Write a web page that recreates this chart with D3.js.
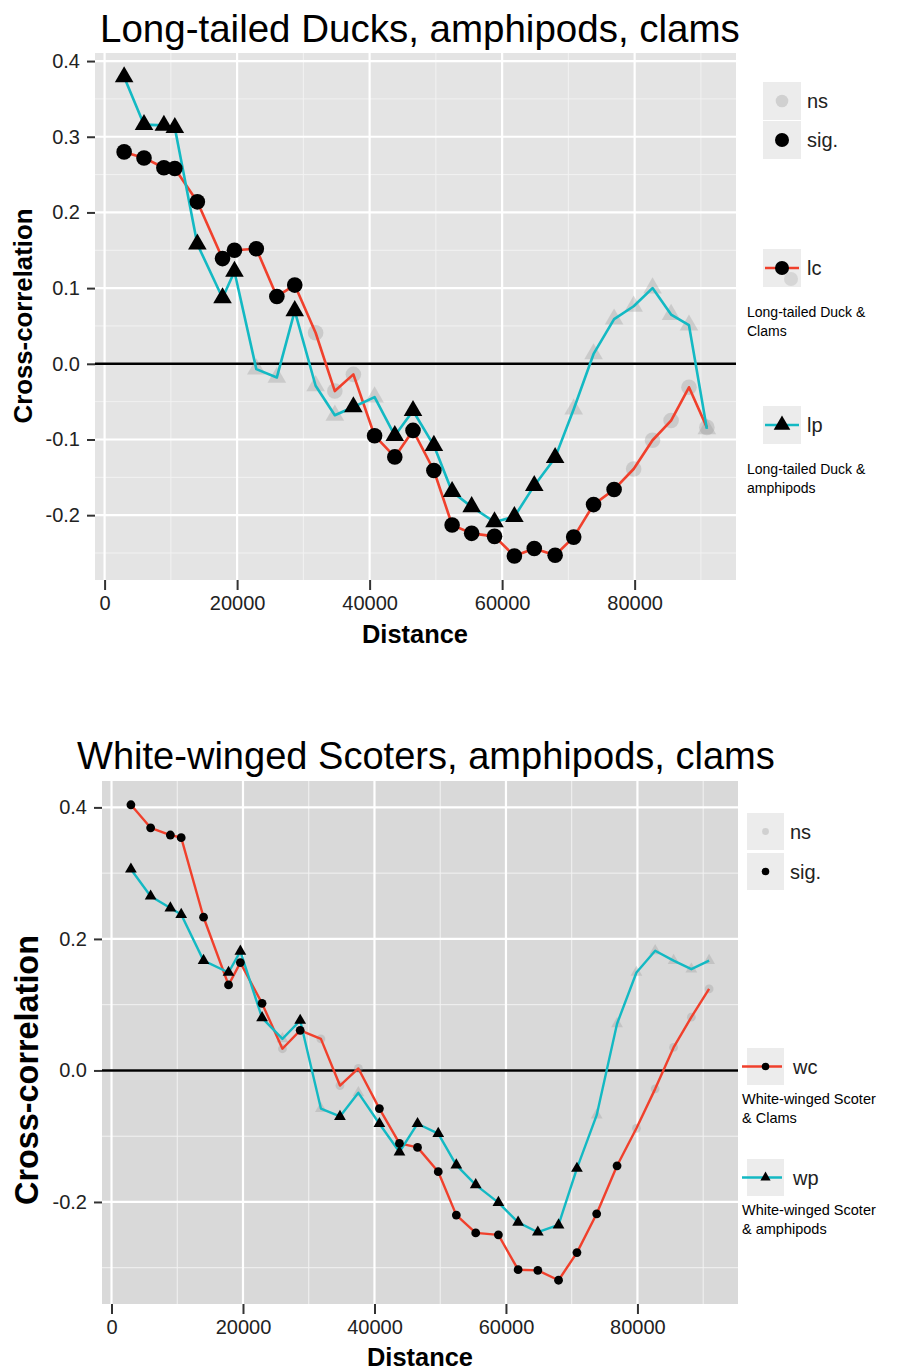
<!DOCTYPE html>
<html>
<head>
<meta charset="utf-8">
<script src="https://cdn.jsdelivr.net/npm/d3@7"></script>
<style>
  html, body { margin: 0; padding: 0; background: #ffffff; }
  svg { display: block; }
  text { font-family: "Liberation Sans", Arial, Helvetica, sans-serif; }
</style>
</head>
<body>
<svg id="fig" width="906" height="1371"></svg>
<script>
// Lag distances shared by both correlograms
const distance = [2950, 5950, 8950, 10600, 14000, 17800, 19600, 22900, 26000, 28700,
                  31850, 34750, 37550, 40750, 43800, 46550, 49700, 52450, 55400, 58850,
                  61850, 64850, 68000, 70800, 73800, 76900, 79850, 82700, 85500, 88200, 90900];

// Long-tailed Duck & clams (lc)
const lcValues = [0.280, 0.272, 0.259, 0.258, 0.214, 0.139, 0.150, 0.152, 0.089, 0.104,
                  0.041, -0.036, -0.014, -0.095, -0.123, -0.088, -0.141, -0.213, -0.224, -0.228,
                  -0.254, -0.244, -0.253, -0.229, -0.186, -0.166, -0.139, -0.101, -0.075, -0.031, -0.084];
const lcSig = [1,1,1,1,1,1,1,1,1,1, 0,0,0,1,1,1,1,1,1,1, 1,1,1,1,1,1,0,0,0,0,0];

// Long-tailed Duck & amphipods (lp)
const lpValues = [0.379, 0.316, 0.315, 0.312, 0.158, 0.087, 0.122, -0.007, -0.018, 0.070,
                  -0.029, -0.068, -0.057, -0.044, -0.095, -0.062, -0.108, -0.169, -0.189, -0.209,
                  -0.202, -0.161, -0.124, -0.060, 0.013, 0.059, 0.076, 0.100, 0.065, 0.051, -0.086];
const lpSig = [1,1,1,1,1,1,1,0,0,1, 0,0,1,0,1,1,1,1,1,1, 1,1,1,0,0,0,0,0,0,0,0];

// White-winged Scoter & clams (wc)
const wcValues = [0.404, 0.369, 0.358, 0.354, 0.233, 0.130, 0.164, 0.102, 0.033, 0.061,
                  0.048, -0.023, 0.003, -0.058, -0.111, -0.117, -0.154, -0.220, -0.247, -0.250,
                  -0.303, -0.304, -0.319, -0.277, -0.218, -0.145, -0.088, -0.028, 0.035, 0.081, 0.124];
const wcSig = [1,1,1,1,1,1,1,1,0,1, 0,0,0,1,1,1,1,1,1,1, 1,1,1,1,1,1,0,0,0,0,0];

// White-winged Scoter & amphipods (wp)
const wpValues = [0.306, 0.265, 0.247, 0.237, 0.167, 0.149, 0.181, 0.080, 0.048, 0.076,
                  -0.058, -0.070, -0.034, -0.081, -0.124, -0.081, -0.096, -0.144, -0.174, -0.201,
                  -0.231, -0.246, -0.235, -0.149, -0.068, 0.071, 0.149, 0.182, 0.167, 0.154, 0.167];
const wpSig = [1,1,1,1,1,1,1,1,0,1, 0,1,0,1,1,1,1,1,1,1, 1,1,1,1,0,0,0,0,0,0,0];

// Axis ticks
const xTicks = [0, 20000, 40000, 60000, 80000];
const xMinorTicks = [10000, 30000, 50000, 70000, 90000];
const yTicksTop = [-0.2, -0.1, 0.0, 0.1, 0.2, 0.3, 0.4];
const yMinorTop = [-0.25, -0.15, -0.05, 0.05, 0.15, 0.25, 0.35];
const yTicksBottom = [-0.2, 0.0, 0.2, 0.4];
const yMinorBottom = [-0.3, -0.1, 0.1, 0.3];

const RED = "#f0402c";
const CYAN = "#13b9c3";
const NS_FILL = "#9a9a9a";

const svg = d3.select("#fig");

function fitWidth(sel, target) {
  const w = sel.node().getComputedTextLength();
  const fs = parseFloat(sel.attr("font-size"));
  sel.attr("font-size", (fs * target / w).toFixed(2));
  return sel;
}

function expand(ext, f) {
  const pad = (ext[1] - ext[0]) * f;
  return [ext[0] - pad, ext[1] + pad];
}

function drawPanel(cfg) {
  const g = svg.append("g");
  const allY = cfg.c.concat(cfg.p);
  const x = d3.scaleLinear().domain(expand(d3.extent(distance), 0.05)).range([cfg.x0, cfg.x1]);
  const y = d3.scaleLinear().domain(expand(d3.extent(allY), 0.05)).range([cfg.y1, cfg.y0]);

  // title
  const title = g.append("text")
    .attr("x", cfg.titleX).attr("y", cfg.titleY)
    .attr("font-size", 34).attr("fill", "#000")
    .text(cfg.title);
  fitWidth(title, cfg.titleW);

  // panel background
  g.append("rect")
    .attr("x", cfg.x0).attr("y", cfg.y0)
    .attr("width", cfg.x1 - cfg.x0).attr("height", cfg.y1 - cfg.y0)
    .attr("fill", cfg.bg);

  // grid lines
  g.selectAll(".gxm").data(xMinorTicks).join("line")
    .attr("x1", d => x(d)).attr("x2", d => x(d)).attr("y1", cfg.y0).attr("y2", cfg.y1)
    .attr("stroke", "#f2f2f2").attr("stroke-width", 1);
  g.selectAll(".gym").data(cfg.yMinor).join("line")
    .attr("x1", cfg.x0).attr("x2", cfg.x1).attr("y1", d => y(d)).attr("y2", d => y(d))
    .attr("stroke", "#f2f2f2").attr("stroke-width", 1);
  g.selectAll(".gx").data(xTicks).join("line")
    .attr("x1", d => x(d)).attr("x2", d => x(d)).attr("y1", cfg.y0).attr("y2", cfg.y1)
    .attr("stroke", "#ffffff").attr("stroke-width", 2.2);
  g.selectAll(".gy").data(cfg.yTicks).join("line")
    .attr("x1", cfg.x0).attr("x2", cfg.x1).attr("y1", d => y(d)).attr("y2", d => y(d))
    .attr("stroke", "#ffffff").attr("stroke-width", 2.2);

  // zero reference line
  g.append("line")
    .attr("x1", cfg.x0).attr("x2", cfg.x1).attr("y1", y(0)).attr("y2", y(0))
    .attr("stroke", "#000").attr("stroke-width", 2.6);

  // axes
  const xAxis = d3.axisBottom(x).tickValues(xTicks).tickFormat(d3.format("d")).tickSize(10).tickPadding(6);
  const gx = g.append("g").attr("transform", `translate(0,${cfg.y1})`).call(xAxis);
  gx.select(".domain").remove();
  gx.selectAll(".tick line").attr("stroke", "#333").attr("stroke-width", 2);
  gx.selectAll(".tick text").attr("font-size", cfg.tickFont).attr("fill", "#222")
    .attr("font-family", "'Liberation Sans', Arial, sans-serif");

  const yAxis = d3.axisLeft(y).tickValues(cfg.yTicks).tickFormat(d3.format(".1f")).tickSize(8).tickPadding(7);
  const gy = g.append("g").attr("transform", `translate(${cfg.x0},0)`).call(yAxis);
  gy.select(".domain").remove();
  gy.selectAll(".tick line").attr("stroke", "#333").attr("stroke-width", 2);
  gy.selectAll(".tick text").attr("font-size", cfg.tickFont).attr("fill", "#222")
    .attr("font-family", "'Liberation Sans', Arial, sans-serif")
    .text(d => d3.format(".1f")(d).replace("−", "-"));

  // axis titles
  const xt = g.append("text")
    .attr("x", cfg.xTitleX).attr("y", cfg.xTitleY)
    .attr("text-anchor", "middle").attr("font-size", 22).attr("font-weight", "bold")
    .text("Distance");
  fitWidth(xt, 106);
  const yt = g.append("text")
    .attr("transform", `translate(${cfg.yTitleX},${cfg.yTitleY}) rotate(-90)`)
    .attr("text-anchor", "middle").attr("font-size", 22).attr("font-weight", "bold")
    .text("Cross-correlation");
  fitWidth(yt, cfg.yTitleW);

  // series
  const rows = distance.map((d, i) => ({
    d, c: cfg.c[i], p: cfg.p[i], cs: cfg.cSig[i], ps: cfg.pSig[i]
  }));
  const clip = "clip" + cfg.id;
  g.append("clipPath").attr("id", clip).append("rect")
    .attr("x", cfg.x0).attr("y", cfg.y0).attr("width", cfg.x1 - cfg.x0).attr("height", cfg.y1 - cfg.y0);
  const plot = g.append("g").attr("clip-path", `url(#${clip})`);

  const lineC = d3.line().x(r => x(r.d)).y(r => y(r.c));
  const lineP = d3.line().x(r => x(r.d)).y(r => y(r.p));

  // non-significant markers sit under the lines
  const tri = d3.symbol().type(d3.symbolTriangle).size(cfg.triSize);
  plot.selectAll(".nsC").data(rows.filter(r => !r.cs)).join("circle")
    .attr("cx", r => x(r.d)).attr("cy", r => y(r.c)).attr("r", cfg.circR)
    .attr("fill", NS_FILL).attr("fill-opacity", 0.35);
  plot.selectAll(".nsP").data(rows.filter(r => !r.ps)).join("path")
    .attr("d", tri).attr("transform", r => `translate(${x(r.d)},${y(r.p)})`)
    .attr("fill", NS_FILL).attr("fill-opacity", 0.35);

  plot.append("path").datum(rows).attr("d", lineC)
    .attr("fill", "none").attr("stroke", RED).attr("stroke-width", cfg.lineW).attr("stroke-linejoin", "round");
  plot.append("path").datum(rows).attr("d", lineP)
    .attr("fill", "none").attr("stroke", CYAN).attr("stroke-width", cfg.lineW).attr("stroke-linejoin", "round");

  plot.selectAll(".sigC").data(rows.filter(r => r.cs)).join("circle")
    .attr("cx", r => x(r.d)).attr("cy", r => y(r.c)).attr("r", cfg.circR)
    .attr("fill", "#000");
  plot.selectAll(".sigP").data(rows.filter(r => r.ps)).join("path")
    .attr("d", tri).attr("transform", r => `translate(${x(r.d)},${y(r.p)})`)
    .attr("fill", "#000");

  // legend
  const L = cfg.legend;
  const lg = g.append("g");
  const keyBox = (ky) => lg.append("rect")
    .attr("x", L.kx).attr("y", ky).attr("width", L.ks).attr("height", L.ks).attr("fill", "#ececec");
  const label = (tx, ty, str, fs) => lg.append("text")
    .attr("x", tx).attr("y", ty).attr("dy", "0.35em").attr("font-size", fs).attr("fill", "#222").text(str);

  keyBox(L.nsY);
  lg.append("circle").attr("cx", L.kx + L.ks / 2).attr("cy", L.nsY + L.ks / 2).attr("r", L.dotR * 0.9)
    .attr("fill", "#d0d0d0");
  label(L.tx, L.nsY + L.ks / 2, "ns", L.font);
  keyBox(L.sigY);
  lg.append("circle").attr("cx", L.kx + L.ks / 2).attr("cy", L.sigY + L.ks / 2).attr("r", L.dotR)
    .attr("fill", "#000");
  label(L.tx, L.sigY + L.ks / 2, "sig.", L.font);

  // colour keys
  [
    { y: L.cY, col: RED, shape: "circle", code: cfg.cCode, desc: cfg.cDesc },
    { y: L.pY, col: CYAN, shape: "tri", code: cfg.pCode, desc: cfg.pDesc }
  ].forEach(k => {
    keyBox(k.y);
    const cy = k.y + L.ks / 2;
    const cx = L.kx + L.ks / 2;
    if (k.shape === "circle" && L.ghost) {
      lg.append("circle").attr("cx", cx + 9).attr("cy", cy + 11).attr("r", L.dotR)
        .attr("fill", "#bdbdbd").attr("fill-opacity", 0.45);
    }
    lg.append("line").attr("x1", L.lineX0).attr("x2", L.kx + L.ks - 2).attr("y1", cy).attr("y2", cy)
      .attr("stroke", k.col).attr("stroke-width", cfg.lineW);
    if (k.shape === "circle") {
      lg.append("circle").attr("cx", cx).attr("cy", cy).attr("r", L.dotR).attr("fill", "#000");
    } else {
      lg.append("path").attr("d", d3.symbol().type(d3.symbolTriangle).size(L.triSize)())
        .attr("transform", `translate(${cx},${cy})`).attr("fill", "#000");
    }
    label(L.tx2, cy, k.code, L.font);
    k.desc.forEach((line, i) => {
      const t = lg.append("text")
        .attr("x", L.descX).attr("y", k.y + L.descDy + i * L.descLh)
        .attr("font-size", L.descFont).attr("fill", "#000").text(line);
    });
  });
}

drawPanel({
  id: "top",
  x0: 95, x1: 736, y0: 53, y1: 580,
  bg: "#e4e4e4",
  c: lcValues, p: lpValues, cSig: lcSig, pSig: lpSig,
  yTicks: yTicksTop, yMinor: yMinorTop,
  title: "Long-tailed Ducks, amphipods, clams",
  titleX: 100, titleY: 41.5, titleW: 640,
  tickFont: 20,
  xTitleX: 415, xTitleY: 643,
  yTitleX: 32, yTitleY: 316, yTitleW: 215,
  circR: 7.8, triSize: 150, lineW: 2.6,
  cCode: "lc", pCode: "lp",
  cDesc: ["Long-tailed Duck &", "Clams"],
  pDesc: ["Long-tailed Duck &", "amphipods"],
  legend: {
    kx: 763, ks: 38, nsY: 82, sigY: 121, cY: 249, pY: 406,
    tx: 807, tx2: 807, font: 20, dotR: 7, triSize: 120, ghost: true,
    lineX0: 765, descX: 747, descDy: 68, descLh: 19, descFont: 14
  }
});

drawPanel({
  id: "bottom",
  x0: 102, x1: 738, y0: 781, y1: 1304,
  bg: "#d9d9d9",
  c: wcValues, p: wpValues, cSig: wcSig, pSig: wpSig,
  yTicks: yTicksBottom, yMinor: yMinorBottom,
  title: "White-winged Scoters, amphipods, clams",
  titleX: 77, titleY: 769, titleW: 698,
  tickFont: 20,
  xTitleX: 420, xTitleY: 1366,
  yTitleX: 38, yTitleY: 1070, yTitleW: 270,
  circR: 4.4, triSize: 60, lineW: 2.4,
  cCode: "wc", pCode: "wp",
  cDesc: ["White-winged Scoter", "& Clams"],
  pDesc: ["White-winged Scoter", "& amphipods"],
  legend: {
    kx: 747, ks: 37, nsY: 813, sigY: 853, cY: 1048, pY: 1159,
    tx: 790, tx2: 793, font: 20, dotR: 3.8, triSize: 45, ghost: false,
    lineX0: 742, descX: 742, descDy: 56, descLh: 19, descFont: 14.5
  }
});
</script>
</body>
</html>
